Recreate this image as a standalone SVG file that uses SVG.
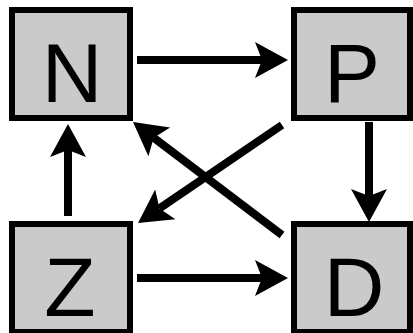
<svg xmlns="http://www.w3.org/2000/svg" width="413" height="333" viewBox="0 0 413 333">
<style>
.box{fill:#cacaca;stroke:#000;stroke-width:6}
.lbl{font-family:"Liberation Sans",Arial,sans-serif;font-size:84px;fill:#000;text-anchor:middle}
.edge{stroke:#000;stroke-width:8;fill:none;marker-end:url(#ah)}
</style>
<defs>
<marker id="ah" markerUnits="userSpaceOnUse" markerWidth="40" markerHeight="40" refX="7" refY="0" viewBox="-1 -20 36 40" orient="auto" overflow="visible">
<path d="M0,-18 L33,0 L0,18 L7,0 Z" fill="#000"/>
</marker>
</defs>
<rect width="413" height="333" fill="#fff"/>
<g id="N"><rect class="box" x="12" y="10" width="118" height="108"/><text class="lbl" x="72" y="102">N</text></g>
<g id="P"><rect class="box" x="294" y="10" width="116" height="108"/><text class="lbl" x="352" y="102">P</text></g>
<g id="Z"><rect class="box" x="12" y="224" width="118" height="108"/><text class="lbl" x="70" y="316">Z</text></g>
<g id="D"><rect class="box" x="294" y="224" width="116" height="108"/><text class="lbl" x="354" y="316">D</text></g>
<g id="edges">
<line class="edge" x1="137" y1="60" x2="262" y2="60"/>
<line class="edge" x1="137" y1="278" x2="262" y2="278"/>
<line class="edge" x1="68" y1="216" x2="68" y2="150"/>
<line class="edge" x1="369" y1="122" x2="369" y2="196"/>
<line class="edge" x1="282" y1="125" x2="159.5" y2="208.4"/>
<line class="edge" x1="282" y1="235" x2="153.7" y2="137.7"/>
</g>
</svg>
